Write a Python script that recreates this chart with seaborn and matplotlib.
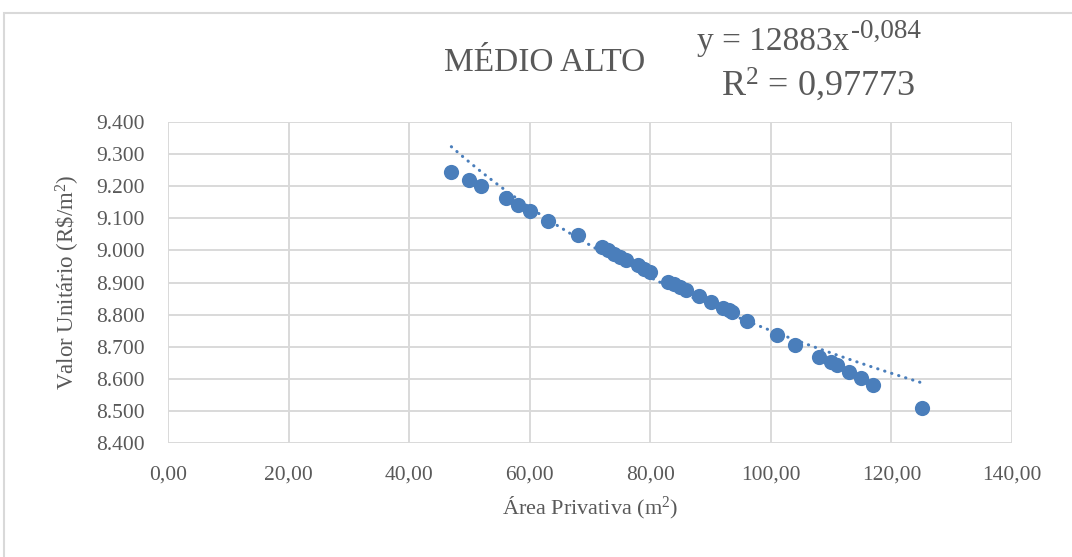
import numpy as np
import pandas as pd
import matplotlib
matplotlib.use("Agg")
import matplotlib.pyplot as plt
from matplotlib.ticker import FuncFormatter, MultipleLocator
from matplotlib.patches import Rectangle
import seaborn as sns

# Private area (m²) and unit value (R$/m²) of the sampled units
area = [47.0, 50.0, 52.0, 56.0, 58.0, 60.0, 63.0, 68.0,
        72.0, 73.0, 74.0, 75.0, 76.0, 78.0, 79.0, 80.0,
        83.0, 84.0, 85.0, 86.0, 88.0, 90.0, 92.0, 93.0, 93.5, 96.0,
        101.0, 104.0, 108.0, 110.0, 111.0, 113.0, 115.0, 117.0, 125.0]
valor = [9244, 9218, 9200, 9163, 9141, 9123, 9092, 9048,
         9010, 9000, 8990, 8980, 8970, 8953, 8943, 8933,
         8902, 8894, 8886, 8877, 8858, 8839, 8821, 8813, 8807, 8781,
         8735, 8706, 8668, 8651, 8642, 8620, 8602, 8580, 8510]

# Power trend line coefficients (y = a * x^b)
coef_a = 12883
coef_b = -0.084
r2 = 0.97773

title = "MÉDIO ALTO"
xlabel = "Área Privativa (m$^2$)"
ylabel = "Valor Unitário (R\\$/m$^2$)"

sns.set_style("white")
plt.rcParams["font.family"] = ["Liberation Serif", "DejaVu Serif"]
plt.rcParams["mathtext.fontset"] = "custom"
plt.rcParams["mathtext.rm"] = "Liberation Serif"
plt.rcParams["mathtext.it"] = "Liberation Serif"

blue = "#4a7ebb"
gray_text = "#595959"
grid_c = "#d9d9d9"

fig = plt.figure(figsize=(10.72, 5.57), dpi=100)
ax = fig.add_axes([168 / 1072, 1 - 443 / 557, (1012 - 168) / 1072, (443 - 122) / 557])

df = pd.DataFrame({"area": area, "valor": valor})

# trend line
xt = np.linspace(min(area), max(area), 200)
yt = coef_a * xt ** coef_b
ax.plot(xt, yt, color=blue, linewidth=2.2, linestyle=(0, (0.1, 2.3)),
        dash_capstyle="round", zorder=2)

sns.scatterplot(data=df, x="area", y="valor", ax=ax, s=120, color=blue,
                edgecolor=blue, linewidth=0, zorder=3, legend=False)

ax.set_xlim(0, 140)
ax.set_ylim(8400, 9400)
ax.xaxis.set_major_locator(MultipleLocator(20))
ax.yaxis.set_major_locator(MultipleLocator(100))
ax.xaxis.set_major_formatter(FuncFormatter(lambda v, p: f"{v:.2f}".replace(".", ",")))
ax.yaxis.set_major_formatter(FuncFormatter(lambda v, p: f"{int(round(v)):,}".replace(",", ".")))

ax.grid(True, color=grid_c, linewidth=1.4)
ax.set_axisbelow(True)
for s in ax.spines.values():
    s.set_visible(False)
ax.tick_params(axis="both", length=0, labelsize=15.5, labelcolor=gray_text)
ax.tick_params(axis="y", pad=17)
ax.tick_params(axis="x", pad=16)

ax.set_xlabel(xlabel, fontsize=16, color=gray_text, labelpad=8)
ax.set_ylabel(ylabel, fontsize=16.5, color=gray_text, labelpad=10)

fig.text(545 / 1072, 1 - 63 / 557, title, fontsize=24, color=gray_text,
         ha="center", va="center")

# trend equation: base text plus raised exponent
coef_txt = f"y = {coef_a}x"
exp_txt = f"{coef_b:.3f}".replace(".", ",")
base = fig.text(697 / 1072, 1 - 50 / 557, coef_txt, fontsize=24,
                color=gray_text, ha="left", va="baseline")
fig.canvas.draw()
bb = base.get_window_extent()
fig.text(bb.x1 / 1072 + 2 / 1072, 1 - 50 / 557 + 12 / 557, exp_txt,
         fontsize=19.5, color=gray_text, ha="left", va="baseline")
fig.text(818 / 1072, 1 - 85 / 557,
         "R$^{\\mathregular{2}}$ = " + f"{r2:.5f}".replace(".", ","),
         fontsize=26, color=gray_text, ha="center", va="center")

# chart area border
fig.patches.append(Rectangle((4 / 1072, -0.05), 1.2, 1 - 13 / 557 + 0.05,
                             transform=fig.transFigure, fill=False,
                             edgecolor=grid_c, linewidth=1.5))

fig.savefig("out.png", dpi=100, facecolor="white")
